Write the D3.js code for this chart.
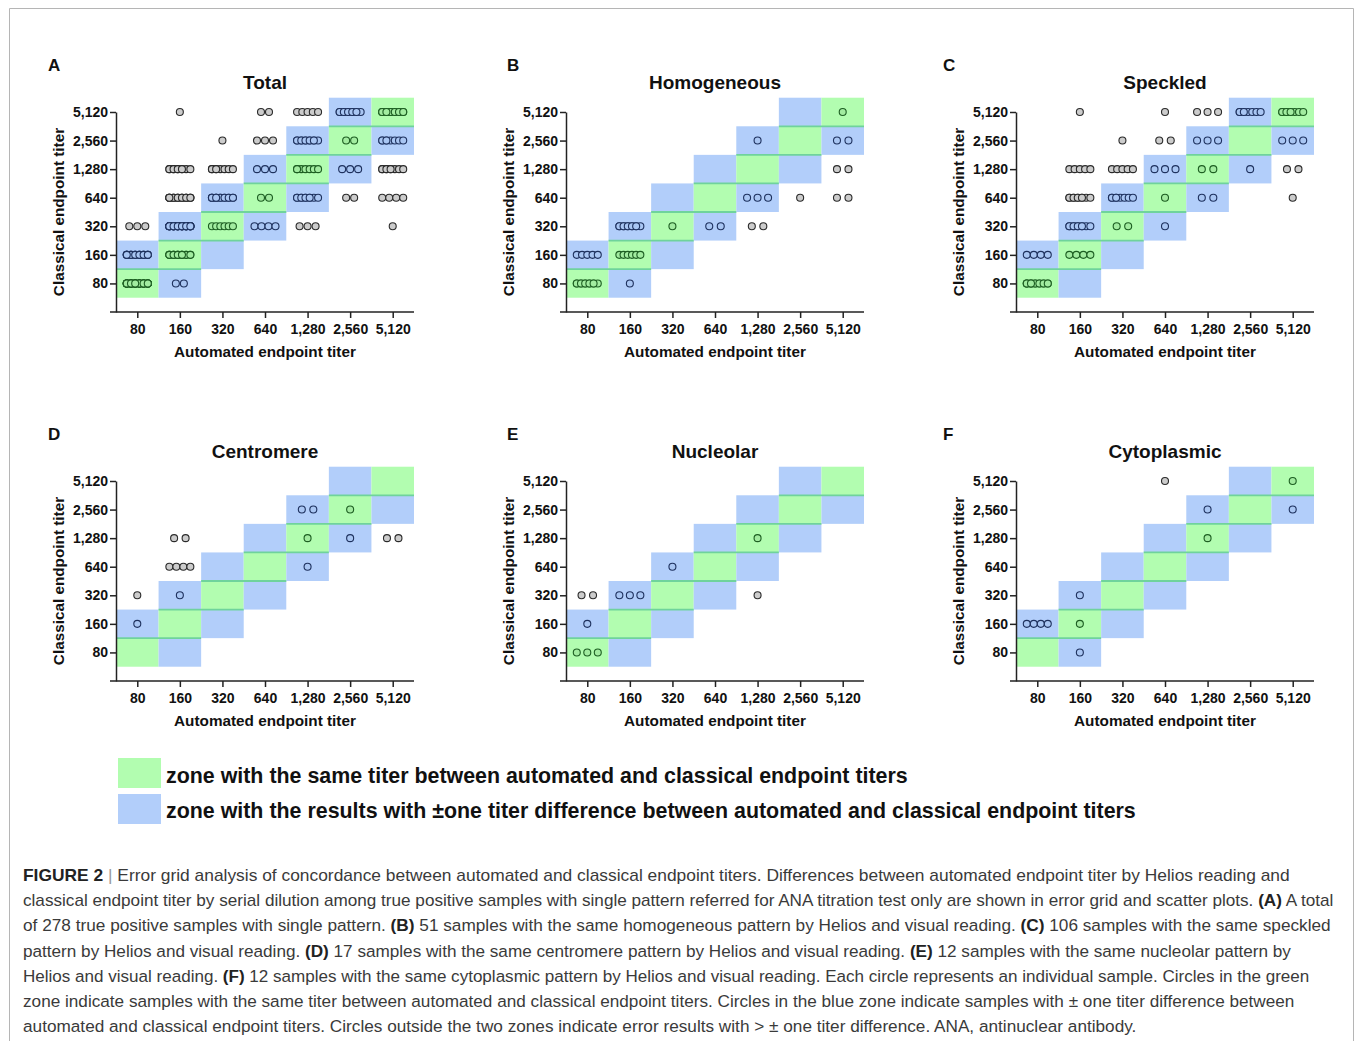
<!DOCTYPE html>
<meta charset="utf-8">
<style>
body { margin: 0; background: #fff; }
svg text { font-family: "Liberation Sans", Arial, Helvetica, sans-serif; }
.axis path, .axis line { stroke: #222; stroke-width: 1.5px; fill: none; }
.axis text { font-size: 14px; font-weight: bold; fill: #111; }
.title { font-size: 19px; font-weight: bold; text-anchor: middle; fill: #111; }
.letter { font-size: 17px; font-weight: bold; fill: #111; }
.axtitle { font-size: 15.3px; font-weight: bold; text-anchor: middle; fill: #111; }
.legend text { font-size: 21.4px; font-weight: bold; fill: #111; }
.caption text { font-size: 17px; fill: #3a3a3a; }
.caption .b { font-weight: bold; fill: #222; }
.caption .sep { fill: #999; }
</style>
<body>
<script src="https://cdn.jsdelivr.net/npm/d3@7"></script>
<script>

// titer levels and their tick labels
var titers = [80, 160, 320, 640, 1280, 2560, 5120];
var tickLabels = ["80", "160", "320", "640", "1,280", "2,560", "5,120"];

var panelLetters = ["A", "B", "C", "D", "E", "F"];
var panelTitles = ["Total", "Homogeneous", "Speckled", "Centromere", "Nucleolar", "Cytoplasmic"];

// [automated titer, classical titer, number of samples]
var totalCounts = [
  [80, 80, 39], [80, 160, 19], [80, 320, 3],
  [160, 80, 2], [160, 160, 16], [160, 320, 36], [160, 640, 19], [160, 1280, 10], [160, 5120, 1],
  [320, 320, 6], [320, 640, 14], [320, 1280, 8], [320, 2560, 1],
  [640, 320, 4], [640, 640, 2], [640, 1280, 3], [640, 2560, 3], [640, 5120, 2],
  [1280, 320, 3], [1280, 640, 10], [1280, 1280, 7], [1280, 2560, 11], [1280, 5120, 5],
  [2560, 640, 2], [2560, 1280, 3], [2560, 2560, 2], [2560, 5120, 11],
  [5120, 320, 1], [5120, 640, 4], [5120, 1280, 9], [5120, 2560, 8], [5120, 5120, 14]
];
var homogeneousCounts = [
  [80, 80, 11], [80, 160, 5], [160, 80, 1], [160, 160, 6], [160, 320, 11],
  [320, 320, 1], [640, 320, 2], [1280, 320, 2], [1280, 640, 3], [1280, 2560, 1],
  [2560, 640, 1], [5120, 640, 2], [5120, 1280, 2], [5120, 2560, 2], [5120, 5120, 1]
];
var speckledCounts = [
  [160, 5120, 1], [640, 5120, 1], [1280, 5120, 3], [2560, 5120, 8], [5120, 5120, 9],
  [320, 2560, 1], [640, 2560, 2], [1280, 2560, 3], [5120, 2560, 3],
  [160, 1280, 5], [320, 1280, 5], [640, 1280, 3], [1280, 1280, 2], [2560, 1280, 1], [5120, 1280, 2],
  [160, 640, 10], [320, 640, 8], [640, 640, 1], [1280, 640, 2], [5120, 640, 1],
  [160, 320, 10], [320, 320, 2], [640, 320, 1],
  [80, 160, 4], [160, 160, 4],
  [80, 80, 14]
];
var centromereCounts = [
  [1280, 2560, 2], [2560, 2560, 1], [160, 1280, 2], [1280, 1280, 1], [2560, 1280, 1],
  [5120, 1280, 2], [160, 640, 4], [1280, 640, 1], [80, 320, 1], [160, 320, 1], [80, 160, 1]
];
var nucleolarCounts = [
  [1280, 1280, 1], [320, 640, 1], [80, 320, 2], [160, 320, 3], [1280, 320, 1],
  [80, 160, 1], [80, 80, 3]
];
var cytoplasmicCounts = [
  [640, 5120, 1], [5120, 5120, 1], [1280, 2560, 1], [5120, 2560, 1], [1280, 1280, 1],
  [160, 320, 1], [80, 160, 4], [160, 160, 1], [160, 80, 1]
];

var panelData = [totalCounts, homogeneousCounts, speckledCounts,
                 centromereCounts, nucleolarCounts, cytoplasmicCounts];

var legendLabels = [
  "zone with the same titer between automated and classical endpoint titers",
  "zone with the results with \u00B1one titer difference between automated and classical endpoint titers"
];

// caption lines: [text, bold]
var captionLines = [
  [["FIGURE 2", 1], [" | ", 2], ["Error grid analysis of concordance between automated and classical endpoint titers. Differences between automated endpoint titer by Helios reading and", 0]],
  [["classical endpoint titer by serial dilution among true positive samples with single pattern referred for ANA titration test only are shown in error grid and scatter plots. ", 0], ["(A)", 1], [" A total", 0]],
  [["of 278 true positive samples with single pattern. ", 0], ["(B)", 1], [" 51 samples with the same homogeneous pattern by Helios and visual reading. ", 0], ["(C)", 1], [" 106 samples with the same speckled", 0]],
  [["pattern by Helios and visual reading. ", 0], ["(D)", 1], [" 17 samples with the same centromere pattern by Helios and visual reading. ", 0], ["(E)", 1], [" 12 samples with the same nucleolar pattern by", 0]],
  [["Helios and visual reading. ", 0], ["(F)", 1], [" 12 samples with the same cytoplasmic pattern by Helios and visual reading. Each circle represents an individual sample. Circles in the green", 0]],
  [["zone indicate samples with the same titer between automated and classical endpoint titers. Circles in the blue zone indicate samples with \u00B1 one titer difference between", 0]],
  [["automated and classical endpoint titers. Circles outside the two zones indicate error results with > \u00B1 one titer difference. ANA, antinuclear antibody.", 0]]
];
var captionRight = [1290, 1334, 1331, 1292, 1310, 1295, 1137];

var width = 1355, height = 1041;
var green = "#b2fdb0", blue = "#b2cefa";
var pointStyle = {
  0: { fill: "#a2eca0", stroke: "#1d5e22" },
  1: { fill: "#a9c6f3", stroke: "#1e315e" },
  2: { fill: "#cccccc", stroke: "#2a2a2a" }
};

var svg = d3.select("body").append("svg")
    .attr("width", width)
    .attr("height", height);

svg.append("rect").attr("width", width).attr("height", height).attr("fill", "#fff");
svg.append("path")
    .attr("d", "M9.5," + height + "V8.5H1353.5V" + height)
    .attr("fill", "none")
    .attr("stroke", "#b5b5b5")
    .attr("stroke-width", 1);

var x = d3.scaleLog().base(2)
    .domain([80 / Math.SQRT2, 5120 * Math.SQRT2])
    .range([116, 414]);
var y = d3.scaleLog().base(2)
    .domain([40, 5120])
    .range([312, 112]);

var offX = [0, 450, 900, 0, 450, 900],
    offY = [0, 0, 0, 369, 369, 369],
    letterX = [48, 507, 943, 48, 507, 943];

// horizontal offsets for n stacked points
function spread(n, gap) {
  var m = Math.min(n, 6);
  var step = m > 1 ? Math.min(n <= 3 ? gap : 7.5, 21 / (m - 1)) : 0;
  var out = [];
  for (var i = 0; i < n; i++) out.push(((i % m) - (m - 1) / 2) * step);
  return out;
}

panelData.forEach(function(data, p) {
  var g = svg.append("g")
      .attr("transform", "translate(" + offX[p] + "," + offY[p] + ")");

  // zones
  var cells = [];
  titers.forEach(function(t, i) {
    cells.push({ a: t, c: t, z: 0 });
    if (i > 0) cells.push({ a: t, c: titers[i - 1], z: 1 });
    if (i < titers.length - 1) cells.push({ a: t, c: titers[i + 1], z: 1 });
  });
  g.selectAll(".cell").data(cells).enter().append("rect")
      .attr("class", "cell")
      .attr("x", function(d) { return x(d.a / Math.SQRT2); })
      .attr("width", function(d) { return x(d.a * Math.SQRT2) - x(d.a / Math.SQRT2); })
      .attr("y", function(d) { return y(d.c * Math.SQRT2); })
      .attr("height", function(d) { return y(d.c / Math.SQRT2) - y(d.c * Math.SQRT2); })
      .attr("fill", function(d) { return d.z === 0 ? green : blue; });

  // darker seam between neighbouring green cells
  g.selectAll(".seam").data(titers.slice(0, -1)).enter().append("line")
      .attr("class", "seam")
      .attr("x1", function(t) { return x(t / Math.SQRT2); })
      .attr("x2", function(t) { return x(t * 2 * Math.SQRT2); })
      .attr("y1", function(t) { return y(t * Math.SQRT2); })
      .attr("y2", function(t) { return y(t * Math.SQRT2); })
      .attr("stroke", "#6fd39c")
      .attr("stroke-width", 1.8);

  // axes
  var xAxis = g.append("g").attr("class", "axis")
      .attr("transform", "translate(0,312)")
      .call(d3.axisBottom(x).tickValues(titers)
        .tickFormat(function(d, i) { return tickLabels[i]; })
        .tickSize(6).tickSizeOuter(0).tickPadding(6));
  xAxis.select(".domain").attr("d", "M110,0H414");

  g.append("g").attr("class", "axis")
      .attr("transform", "translate(116,0)")
      .call(d3.axisLeft(y).tickValues(titers)
        .tickFormat(function(d, i) { return tickLabels[i]; })
        .tickSize(6).tickSizeOuter(0).tickPadding(2));

  // points
  var gap = p === 0 ? 8 : 11.5;
  var pts = [];
  data.forEach(function(d) {
    var z = Math.min(2, Math.abs(Math.round(Math.log2(d[0] / d[1]))));
    spread(d[2], gap).forEach(function(dx) {
      pts.push({ a: d[0], c: d[1], dx: dx, z: z });
    });
  });
  g.selectAll(".pt").data(pts).enter().append("circle")
      .attr("class", "pt")
      .attr("cx", function(d) { return x(d.a) + d.dx; })
      .attr("cy", function(d) { return y(d.c); })
      .attr("r", 3.5)
      .attr("fill", function(d) { return pointStyle[d.z].fill; })
      .attr("stroke", function(d) { return pointStyle[d.z].stroke; })
      .attr("stroke-width", 1.1);

  // labels
  g.append("text").attr("class", "title")
      .attr("x", 265).attr("y", 89).text(panelTitles[p]);
  svg.append("text").attr("class", "letter")
      .attr("x", letterX[p]).attr("y", 71 + offY[p]).text(panelLetters[p]);
  g.append("text").attr("class", "axtitle")
      .attr("x", 265).attr("y", 357).text("Automated endpoint titer");
  g.append("text").attr("class", "axtitle")
      .attr("transform", "translate(64,212) rotate(-90)")
      .text("Classical endpoint titer");
});

// legend
var legend = svg.append("g").attr("class", "legend");
legendLabels.forEach(function(label, i) {
  legend.append("rect")
      .attr("x", 118).attr("y", 758 + i * 36)
      .attr("width", 43).attr("height", 30)
      .attr("fill", i === 0 ? green : blue);
  legend.append("text")
      .attr("x", 166).attr("y", 783 + i * 35)
      .text(label);
});

// caption
var caption = svg.append("g").attr("class", "caption");
captionLines.forEach(function(parts, i) {
  var t = caption.append("text")
      .attr("transform", "translate(23," + (881 + i * 25.2) + ")");
  parts.forEach(function(part) {
    t.append("tspan")
        .attr("class", part[1] === 1 ? "b" : part[1] === 2 ? "sep" : null)
        .text(part[0]);
  });
  var w = t.node().getComputedTextLength();
  var sx = (captionRight[i] - 23) / w;
  t.attr("transform", "translate(23," + (881 + i * 25.2) + ") scale(" + sx + ",1)");
});

</script>
</body>
